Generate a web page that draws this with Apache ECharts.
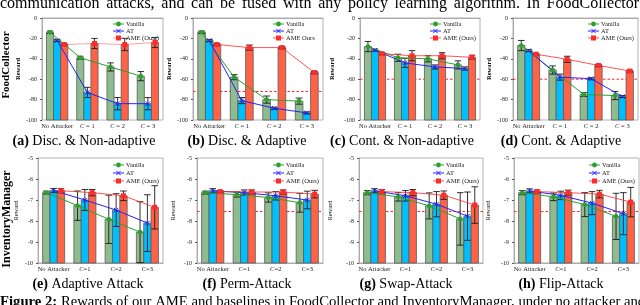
<!DOCTYPE html>
<html><head><meta charset="utf-8">
<script src="https://cdn.jsdelivr.net/npm/echarts/dist/echarts.min.js"></script>
<style>html,body{margin:0;padding:0;background:#fff}#c{width:640px;height:305px}</style>
</head><body><div id="c"></div>
<script>
// ---------- data ----------
const CATS_TOP = ['No Attacker', 'C = 1', 'C = 2', 'C = 3'];
const CATS_BOT = ['No Attacker', 'C=1', 'C=2', 'C=3'];
const METHODS = ['Vanilla', 'AT', 'AME (Ours)'];
const METHODS_B = ['Vanilla', 'AT', 'AME Ours'];
const TOP_TICKS = [0, -20, -40, -60, -80, -100];
const BOT_TICKS = [-5, -6, -7, -8, -9, -10];

// (a) Disc. & Non-adaptive
const A_VAN = [-14, -39, -48, -57],     A_VAN_ERR = [1.2, 1.5, 4, 4.5];
const A_AT  = [-22, -73, -84, -84],     A_AT_ERR  = [1, 5, 6, 6];
const A_AME = [-26, -25, -26, -24],     A_AME_ERR = [1, 5, 6, 5];
// (b) Disc. & Adaptive
const B_VAN = [-14, -58, -80, -81.5],   B_VAN_ERR = [1.2, 2.5, 3.5, 3];
const B_AT  = [-22, -81, -88.5, -93],   B_AT_ERR  = [1, 3, 1, 1];
const B_AME = [-26, -29, -29, -53.5],   B_AME_ERR = [1, 2.5, 1, 1];
// (c) Cont. & Non-adaptive
const C_VAN = [-28, -39, -40, -46],     C_VAN_ERR = [5, 3.5, 3, 4];
const C_AT  = [-31.5, -44, -48, -49.5], C_AT_ERR  = [1, 4.5, 2, 1.5];
const C_AME = [-35, -37, -37, -38.5],   C_AME_ERR = [1, 5, 3, 2];
// (d) Cont. & Adaptive
const D_VAN = [-27, -51, -75, -76],     D_VAN_ERR = [5, 4, 2, 4];
const D_AT  = [-32, -58, -59.5, -77],   D_AT_ERR  = [1, 3, 1, 1];
const D_AME = [-35.5, -40.5, -46.5, -52], D_AME_ERR = [1, 3, 1, 1];
// (e) Adaptive Attack
const E_VAN = [-6.65, -7.27, -7.92, -8.53], E_VAN_ERR = [0.07, 0.7, 1.15, 1.45];
const E_AT  = [-6.55, -7.0, -7.48, -8.1],   E_AT_ERR  = [0.1, 0.5, 0.78, 1.35];
const E_AME = [-6.56, -6.65, -6.8, -7.35],  E_AME_ERR = [0.1, 0.15, 0.23, 1.03];
// (f) Perm-Attack
const F_VAN = [-6.65, -6.74, -6.88, -7.13], F_VAN_ERR = [0.07, 0.12, 0.22, 0.45];
const F_AT  = [-6.56, -6.65, -6.8, -7.0],   F_AT_ERR  = [0.1, 0.13, 0.2, 0.42];
const F_AME = [-6.6, -6.62, -6.62, -6.72],  F_AME_ERR = [0.05, 0.1, 0.1, 0.18];
// (g) Swap-Attack
const G_VAN = [-6.65, -6.85, -7.28, -7.9],  G_VAN_ERR = [0.1, 0.2, 0.62, 1.25];
const G_AT  = [-6.56, -6.8, -7.2, -7.77],   G_AT_ERR  = [0.1, 0.25, 0.6, 1.15];
const G_AME = [-6.6, -6.65, -6.77, -7.24],  G_AME_ERR = [0.1, 0.15, 0.2, 0.87];
// (h) Flip-Attack
const H_VAN = [-6.65, -6.85, -7.22, -7.78], H_VAN_ERR = [0.1, 0.18, 0.57, 1.1];
const H_AT  = [-6.57, -6.78, -7.15, -7.65], H_AT_ERR  = [0.1, 0.2, 0.55, 1.0];
const H_AME = [-6.6, -6.65, -6.72, -7.1],   H_AME_ERR = [0.08, 0.12, 0.18, 0.7];

const THRESH = [null, -72, -60, -60, null, -7.55, -7.55, -7.55];
const TITLES = [
  ['(a)', 'Disc. & Non-adaptive'], ['(b)', 'Disc. & Adaptive'],
  ['(c)', 'Cont. & Non-adaptive'], ['(d)', 'Cont. & Adaptive'],
  ['(e)', 'Adaptive Attack'], ['(f)', 'Perm-Attack'],
  ['(g)', 'Swap-Attack'], ['(h)', 'Flip-Attack']
];
const HEADER_TEXT = 'communication attacks, and can be fused with any policy learning algorithm. In FoodCollector';
const CAPTION_TEXT = 'Rewards of our AME and baselines in FoodCollector and InventoryManager, under no attacker and';

// ---------- layout / style ----------
const SERIF = 'Liberation Serif';
const PANELS = [
  {means:[A_VAN,A_AT,A_AME], errs:[A_VAN_ERR,A_AT_ERR,A_AME_ERR], left:42,  width:121, top:18,  height:102, nameGap:17, titleX:84,  ameOpacity:0.45, legend:METHODS},
  {means:[B_VAN,B_AT,B_AME], errs:[B_VAN_ERR,B_AT_ERR,B_AME_ERR], left:193, width:130, top:18,  height:102, nameGap:18, titleX:247, ameOpacity:0.8, legend:METHODS_B},
  {means:[C_VAN,C_AT,C_AME], errs:[C_VAN_ERR,C_AT_ERR,C_AME_ERR], left:360, width:120, top:18,  height:102, nameGap:24, titleX:402, ameOpacity:0.8, legend:METHODS},
  {means:[D_VAN,D_AT,D_AME], errs:[D_VAN_ERR,D_AT_ERR,D_AME_ERR], left:513, width:125, top:18,  height:102, nameGap:20, titleX:561, ameOpacity:0.8, legend:METHODS},
  {means:[E_VAN,E_AT,E_AME], errs:[E_VAN_ERR,E_AT_ERR,E_AME_ERR], left:38,  width:125, top:158, height:105, nameGap:18, titleX:88,  ameOpacity:0.8, legend:METHODS},
  {means:[F_VAN,F_AT,F_AME], errs:[F_VAN_ERR,F_AT_ERR,F_AME_ERR], left:197, width:126, top:158, height:105, nameGap:20, titleX:247, ameOpacity:0.8, legend:METHODS},
  {means:[G_VAN,G_AT,G_AME], errs:[G_VAN_ERR,G_AT_ERR,G_AME_ERR], left:359, width:124, top:158, height:105, nameGap:25, titleX:406, ameOpacity:0.8, legend:METHODS},
  {means:[H_VAN,H_AT,H_AME], errs:[H_VAN_ERR,H_AT_ERR,H_AME_ERR], left:514, width:125, top:158, height:105, nameGap:22, titleX:561, ameOpacity:0.8, legend:METHODS}
];
const BAR_COLORS = ['#8fbc8f', '#00bfff', '#ff6347'];
const LINE_COLORS = ['#2ca02c', '#2323ff', '#ff2a2a'];
const MARKERS = ['circle', 'x', 'square'];
const BAR_FRAC = 0.235;

function markerEl(shape, x, y, color) {
  if (shape === 'circle') return {type:'circle', z2:10, shape:{cx:x, cy:y, r:2.4}, style:{fill:color}};
  if (shape === 'square') return {type:'rect', z2:10, shape:{x:x-2.5, y:y-2.5, width:5, height:5}, style:{fill:color}};
  return {type:'group', children:[
    {type:'line', z2:10, shape:{x1:x-2.2, y1:y-2.2, x2:x+2.2, y2:y+2.2}, style:{stroke:color, lineWidth:1}},
    {type:'line', z2:10, shape:{x1:x-2.2, y1:y+2.2, x2:x+2.2, y2:y-2.2}, style:{stroke:color, lineWidth:1}}
  ]};
}

function barRender(m) {
  return function (params, api) {
    const i = api.value(0), v = api.value(1), e = api.value(2);
    const band = api.size([1, 0])[0];
    const w = band * BAR_FRAC;
    const c = api.coord([i, v]);
    const cs = params.coordSys;
    const base = cs.y + cs.height;
    const cx = c[0] + (m - 1) * w;
    const t = api.coord([i, v + e])[1], b = api.coord([i, v - e])[1];
    const cap = w * 0.45;
    return {type:'group', children:[
      {type:'rect', shape:{x:cx - w/2, y:c[1], width:w, height:base - c[1]}, style:{fill:BAR_COLORS[m], stroke:'#5a5a5a', lineWidth:0.8}},
      {type:'line', z2:5, shape:{x1:cx, y1:t, x2:cx, y2:b}, style:{stroke:'#1a1a1a', lineWidth:0.9}},
      {type:'line', z2:5, shape:{x1:cx-cap, y1:t, x2:cx+cap, y2:t}, style:{stroke:'#1a1a1a', lineWidth:0.9}},
      {type:'line', z2:5, shape:{x1:cx-cap, y1:b, x2:cx+cap, y2:b}, style:{stroke:'#1a1a1a', lineWidth:0.9}}
    ]};
  };
}

function lineRender(m, opacity) {
  return function (params, api) {
    const i = api.value(0), v = api.value(1), pv = api.value(2);
    const band = api.size([1, 0])[0];
    const w = band * BAR_FRAC;
    const p = api.coord([i, v]); p[0] += (m - 1) * w;
    const ch = [];
    if (i > 0) {
      const q = api.coord([i - 1, pv]); q[0] += (m - 1) * w;
      ch.push({type:'line', shape:{x1:q[0], y1:q[1], x2:p[0], y2:p[1]}, style:{stroke:LINE_COLORS[m], lineWidth:1, opacity:opacity}});
    }
    ch.push(markerEl(MARKERS[m], p[0], p[1], LINE_COLORS[m]));
    return {type:'group', children:ch};
  };
}

function threshRender(params, api) {
  const cs = params.coordSys;
  const y = api.coord([0, api.value(1)])[1];
  return {type:'line', shape:{x1:cs.x, y1:y, x2:cs.x + cs.width, y2:y}, style:{stroke:'#ff2020', lineWidth:1, lineDash:[2.5, 2]}};
}

const grids = [], xAxes = [], yAxes = [], series = [], graphics = [];
PANELS.forEach((P, k) => {
  const top = k < 4;
  grids.push({left:P.left, top:P.top, width:P.width, height:P.height, show:true, borderColor:'#a0a0a0', borderWidth:0.8, backgroundColor:'#fff', containLabel:false, outerBoundsMode:'none'});
  xAxes.push({type:'category', gridIndex:k, data: top ? CATS_TOP : CATS_BOT,
    axisLine:{lineStyle:{color:'#a0a0a0', width:0.8}},
    axisTick:{alignWithLabel:true, length:2, lineStyle:{color:'#555'}},
    axisLabel:{interval:0, margin:3, fontFamily:SERIF, fontSize:6.5, color:'#222',
      formatter: s => s.replace('C', '{i|C}'),
      rich:{i:{fontStyle:'italic', fontFamily:SERIF, fontSize:6.5, color:'#222'}}}});
  const ticks = top ? TOP_TICKS : BOT_TICKS;
  yAxes.push({type:'value', gridIndex:k, min:Math.min(...ticks), max:Math.max(...ticks), interval:top ? 20 : 1,
    name:'Reward', nameLocation:'middle', nameGap:P.nameGap, nameRotate:90,
    nameTextStyle:{fontFamily:SERIF, fontSize:6.5, fontWeight: top ? 'bold' : 'normal', color:'#111'},
    axisLine:{show:true, lineStyle:{color:'#a0a0a0', width:0.8}},
    axisTick:{show:true, length:2, lineStyle:{color:'#555'}},
    splitLine:{show:false},
    axisLabel:{margin:5, fontFamily:SERIF, fontSize:6, color:'#222'}});

  if (THRESH[k] !== null) {
    series.push({type:'custom', xAxisIndex:k, yAxisIndex:k, z:1, silent:true, renderItem:threshRender, data:[[0, THRESH[k]]]});
  }
  for (let m = 0; m < 3; m++) {
    series.push({type:'custom', name:METHODS[m], xAxisIndex:k, yAxisIndex:k, z:2, silent:true,
      renderItem:barRender(m), data:P.means[m].map((v, i) => [i, v, P.errs[m][i]])});
  }
  for (let m = 0; m < 3; m++) {
    const arr = P.means[m];
    series.push({type:'custom', name:METHODS[m], xAxisIndex:k, yAxisIndex:k, z:4, silent:true,
      renderItem:lineRender(m, m === 2 ? P.ameOpacity : 1), data:arr.map((v, i) => [i, v, i > 0 ? arr[i-1] : 0])});
  }
  // legend
  const R = P.left + P.width;
  const ys = top ? [P.top + 6, P.top + 13, P.top + 20] : [P.top + 7, P.top + 15, P.top + 23];
  for (let m = 0; m < 3; m++) {
    const y = ys[m];
    graphics.push({type:'line', z:50, shape:{x1:R-50, y1:y, x2:R-39, y2:y}, style:{stroke:LINE_COLORS[m], lineWidth:1, opacity: m === 2 ? P.ameOpacity : 1}});
    graphics.push(Object.assign(markerEl(MARKERS[m], R-44.5, y, LINE_COLORS[m]), {z:51}));
    graphics.push({type:'text', z:51, x:R-37, y:y, style:{text:P.legend[m], fontFamily:SERIF, fontSize:6.5, fill:'#222', verticalAlign:'middle', align:'left'}});
  }
  // subtitle
  graphics.push({type:'text', x:P.titleX, y: top ? 141 : 284, style:{
    text:'{b|' + TITLES[k][0] + '} ' + TITLES[k][1], fontFamily:SERIF, fontSize:14, fill:'#000', align:'center', verticalAlign:'middle',
    rich:{b:{fontWeight:'bold', fontFamily:SERIF, fontSize:14, fill:'#000'}}}});
});

// row labels
graphics.push({type:'text', x:6, y:65, rotation:Math.PI/2, style:{text:'FoodCollector', fontFamily:SERIF, fontSize:11, fontWeight:'bold', fill:'#000', align:'center', verticalAlign:'middle'}});
graphics.push({type:'text', x:7, y:219, rotation:Math.PI/2, style:{text:'InventoryManager', fontFamily:SERIF, fontSize:12, fontWeight:'bold', fill:'#000', align:'center', verticalAlign:'middle'}});

// justified header line (word positions from measured text widths)
(function () {
  const fs = 16;
  const ctx = document.createElement('canvas').getContext('2d');
  ctx.font = fs + 'px "' + SERIF + '"';
  const words = HEADER_TEXT.split(' ');
  const widths = words.map(w => ctx.measureText(w).width);
  const total = widths.reduce((a, b) => a + b, 0);
  const gap = (639 - total) / (words.length - 1);
  let x = 0;
  words.forEach((w, i) => {
    graphics.push({type:'text', x:x, y:3.5, style:{text:w, fontFamily:SERIF, fontSize:fs, fill:'#000', align:'left', verticalAlign:'middle'}});
    x += widths[i] + gap;
  });
})();
graphics.push({type:'text', x:0, y:302, style:{text:'{b|Figure 2:} ' + CAPTION_TEXT, fontFamily:SERIF, fontSize:14.7, fill:'#000', align:'left', verticalAlign:'middle',
  rich:{b:{fontWeight:'bold', fontFamily:SERIF, fontSize:14.7, fill:'#000'}}}});

const chart = echarts.init(document.getElementById('c'), null, {renderer:'canvas'});
chart.setOption({
  animation:false, backgroundColor:'#fff',
  grid:grids, xAxis:xAxes, yAxis:yAxes, series:series, graphic:graphics
});
</script></body></html>
